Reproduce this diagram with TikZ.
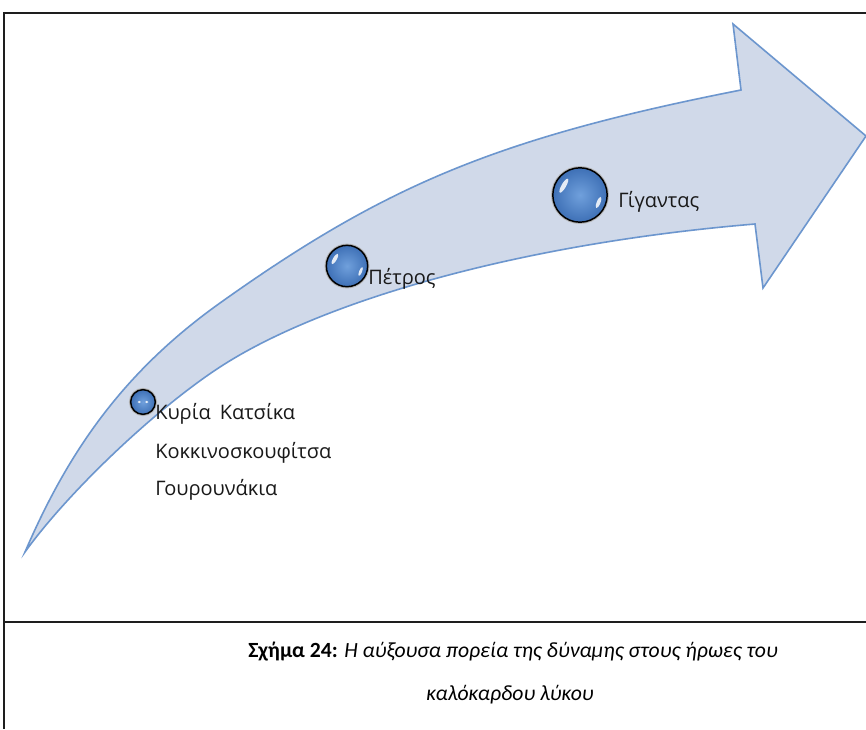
\documentclass[tikz,border=0pt]{standalone}
\usepackage{fontspec}
\setmainfont{Carlito}
\newfontfamily\labelfont{Open Sans}
\definecolor{bandfill}{RGB}{208,217,233}
\definecolor{bandline}{RGB}{108,150,206}
\definecolor{beadlight}{RGB}{112,160,220}
\definecolor{beaddark}{RGB}{62,112,182}
\definecolor{framegray}{RGB}{30,30,30}

\begin{document}
\begin{tikzpicture}[x=0.75pt,y=-0.75pt,
  band/.style={fill=bandfill, draw=bandline, line width=1.2pt, line join=miter},
  bead/.style={circle, inner sep=0pt, draw=black, line width=1.1pt,
    inner color=beadlight, outer color=beaddark,
    preaction={draw=black!30, line width=2.6pt}},
  shine/.style={white, opacity=0.85},
  heroname/.style={font=\labelfont\fontsize{15}{18}\selectfont, text=black!90, inner sep=0pt},
  capline/.style={font=\fontsize{16.25}{20}\selectfont, inner sep=0pt}]

\useasboundingbox (0,0) rectangle (866,729);
\fill[white] (0,0) rectangle (866,729);

% frame: top and left edge, then the rule above the caption
\draw[framegray, line width=1.1pt] (866,13) -| (4,729);
\draw[framegray, line width=1.1pt] (4,622) -- (866,622);

% the curved arrow
\path[band] (25,552)
  .. controls (67,454.5) and (121,373.5) .. (220,303)
  .. controls (385,185.5) and (497,138) .. (741,90)
  -- (733,24) -- (866,136) -- (763,288) -- (755,224)
  .. controls (515,244) and (319,302.5) .. (220,367)
  .. controls (154,410) and (67,493.5) .. (25,552)
  -- cycle;

% beads on the arrow
\node[bead, minimum size=40.8pt] (gig) at (580,195) {};
\node[bead, minimum size=31pt] (pet) at (347,266) {};
\node[bead, minimum size=18.5pt] (kyr) at (143,402) {};

% highlights on the beads
\begin{scope}[shift={(gig.center)}]
  \fill[shine, rotate=150] (14pt,0) ellipse[x radius=1.7pt, y radius=6pt];
  \fill[shine, rotate=-22] (15pt,0) ellipse[x radius=1.4pt, y radius=4.5pt];
\end{scope}
\begin{scope}[shift={(pet.center)}]
  \fill[shine, rotate=150] (10.5pt,0) ellipse[x radius=1.4pt, y radius=4.5pt];
  \fill[shine, rotate=-22] (11pt,0) ellipse[x radius=1.1pt, y radius=3.5pt];
\end{scope}
\begin{scope}[shift={(kyr.center)}]
  \fill[shine] (-2.8pt,0) ellipse[x radius=1.2pt, y radius=0.9pt];
  \fill[shine] (2.8pt,0) ellipse[x radius=1.2pt, y radius=0.9pt];
\end{scope}

% names
\node[heroname, anchor=base west] (gigname) at (618,207) {Γίγαντας};
\node[heroname, anchor=base west] (petname) at (368,284) {Πέτρος};
\node[heroname, anchor=base west] (katsika) at (155,419) {Κυρία\hspace{0.45em}Κατσίκα};
\node[heroname, anchor=base west] (kokkino) at (155,458) {Κοκκινοσκουφίτσα};
\node[heroname, anchor=base west] (gourou) at (155,495) {Γουρουνάκια};

% caption
\node[capline, anchor=base] (cap1) at (513,657) {\textbf{Σχήμα 24:} \textit{Η αύξουσα πορεία της δύναμης στους ήρωες του}};
\node[capline, anchor=base] (cap2) at (510,700) {\textit{καλόκαρδου λύκου}};
\end{tikzpicture}
\end{document}
